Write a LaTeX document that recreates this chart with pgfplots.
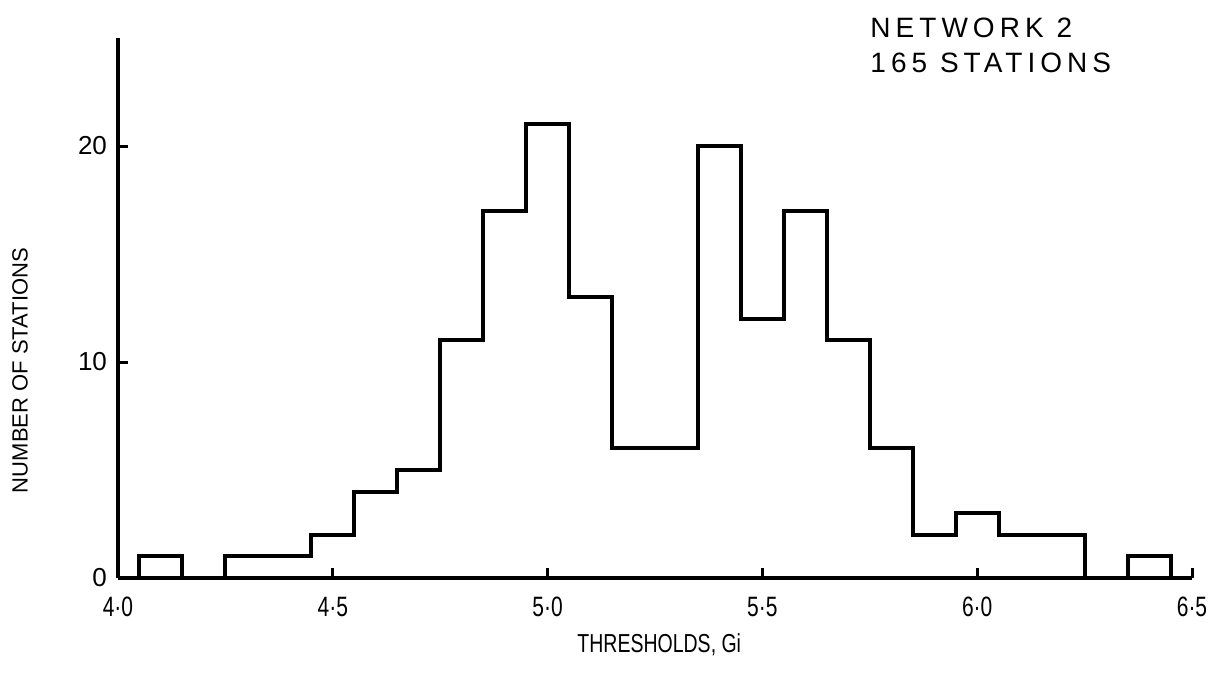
\documentclass[border=0pt]{standalone}
\usepackage{fontspec}
\setmainfont{Liberation Sans}
\newfontfamily\narrowfont[FakeStretch=0.75]{Liberation Sans}
\newfontfamily\spacedfont[LetterSpace=18]{Liberation Sans}
\usepackage{pgfplots}
\pgfplotsset{compat=1.18}

\begin{document}
\begin{tikzpicture}
\begin{axis}[
    scale only axis,
    width=537pt, height=270pt,
    xmin=4, xmax=6.5,
    ymin=0, ymax=25,
    clip=false,
    axis x line=bottom, axis y line=left,
    axis line style={-, line width=2pt},
    xtick={4,4.5,5,5.5,6,6.5},
    xticklabels={4·0,4·5,5·0,5·5,6·0,6·5},
    ytick={0,10,20},
    tick align=inside,
    major tick length=5pt,
    tick style={line width=1.5pt, black},
    x tick label style={font=\narrowfont\fontsize{14}{16}\selectfont, yshift=-6pt},
    y tick label style={font=\fontsize{13}{15}\selectfont, xshift=-2pt},
    /pgf/number format/assume math mode=true,
]
\addplot[const plot, line width=2pt, black] coordinates {
    (4.00,0) (4.05,1) (4.15,0) (4.25,1) (4.35,1) (4.45,2) (4.55,4)
    (4.65,5) (4.75,11) (4.85,17) (4.95,21) (5.05,13) (5.15,6) (5.25,6)
    (5.35,20) (5.45,12) (5.55,17) (5.65,11) (5.75,6) (5.85,2) (5.95,3)
    (6.05,2) (6.15,2) (6.25,0) (6.35,1) (6.45,0) (6.50,0)
};
\node[anchor=west, font=\spacedfont\fontsize{14}{16}\selectfont] at (axis cs:5.735,25.45) {NETWORK 2};
\node[anchor=west, font=\spacedfont\fontsize{14}{16}\selectfont] at (axis cs:5.735,23.85) {165 STATIONS};
\node[font=\narrowfont\fontsize{13}{15}\selectfont] at ([yshift=-33.5pt]axis cs:5.26,0) {THRESHOLDS, Gi};
\node[rotate=90, font=\fontsize{11}{13}\selectfont] at ([xshift=-49pt]axis cs:4,9.6) {NUMBER OF STATIONS};
\end{axis}
\path (current axis.origin) ++(-59pt,-54.5pt) rectangle ++(611.5pt,343.5pt);
\end{tikzpicture}
\end{document}
